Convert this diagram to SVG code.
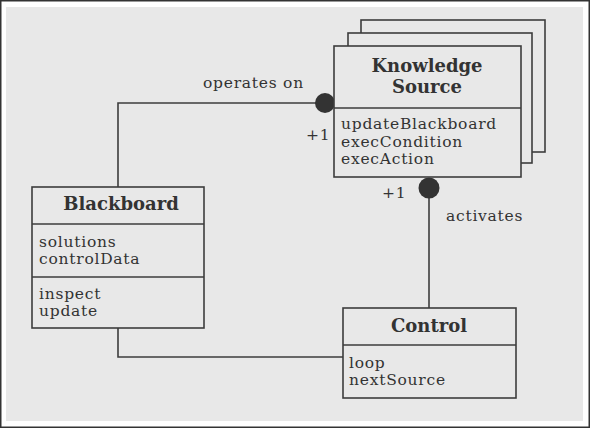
<svg xmlns="http://www.w3.org/2000/svg" width="590" height="428" viewBox="0 0 590 428">
<style>
.box{fill:#e8e8e8;stroke:#3c3c3c;stroke-width:1.6}
.ln{fill:none;stroke:#3c3c3c;stroke-width:1.6}
.dot{fill:#333333}
.t{font-family:"DejaVu Serif",serif;font-size:15.5px;letter-spacing:0.75px;fill:#333333}
.b{font-family:"DejaVu Serif",serif;font-size:18px;font-weight:bold;fill:#333333;text-anchor:middle}
</style>
<rect x="0" y="0" width="590" height="428" fill="#ffffff"/>
<rect x="0.75" y="0.75" width="588.5" height="426.5" fill="none" stroke="#333333" stroke-width="1.5"/>
<rect x="6" y="7" width="577" height="414" fill="#e8e8e8"/>
<g id="connectors">
<polyline class="ln" points="118,187 118,103 325,103"/>
<polyline class="ln" points="118,328 118,357 343,357"/>
<line class="ln" x1="429" y1="187" x2="429" y2="308"/>
<circle class="dot" cx="325" cy="103" r="10"/>
<circle class="dot" cx="429" cy="188" r="10.5"/>
<text class="t" x="203" y="88">operates on</text>
<text class="t" x="306" y="140">+1</text>
<text class="t" x="382" y="198">+1</text>
<text class="t" x="446" y="221">activates</text>
</g>
<g id="knowledge-source">
<rect class="box" x="361" y="20" width="184" height="132"/>
<rect class="box" x="348" y="33" width="184" height="130"/>
<rect class="box" x="334" y="46" width="187" height="131"/>
<line class="ln" x1="334" y1="108" x2="521" y2="108"/>
<text class="b" x="427" y="72">Knowledge</text>
<text class="b" x="427" y="93">Source</text>
<text class="t" x="341" y="129">updateBlackboard</text>
<text class="t" x="341" y="146.5">execCondition</text>
<text class="t" x="341" y="164">execAction</text>
</g>
<g id="blackboard">
<rect class="box" x="32" y="187" width="172" height="141"/>
<line class="ln" x1="32" y1="224" x2="204" y2="224"/>
<line class="ln" x1="32" y1="277" x2="204" y2="277"/>
<text class="b" x="121" y="210">Blackboard</text>
<text class="t" x="39" y="247">solutions</text>
<text class="t" x="39" y="264">controlData</text>
<text class="t" x="39" y="299">inspect</text>
<text class="t" x="39" y="316">update</text>
</g>
<g id="control">
<rect class="box" x="343" y="308" width="173" height="90"/>
<line class="ln" x1="343" y1="345" x2="516" y2="345"/>
<text class="b" x="429" y="332">Control</text>
<text class="t" x="349" y="368">loop</text>
<text class="t" x="349" y="385">nextSource</text>
</g>
</svg>
